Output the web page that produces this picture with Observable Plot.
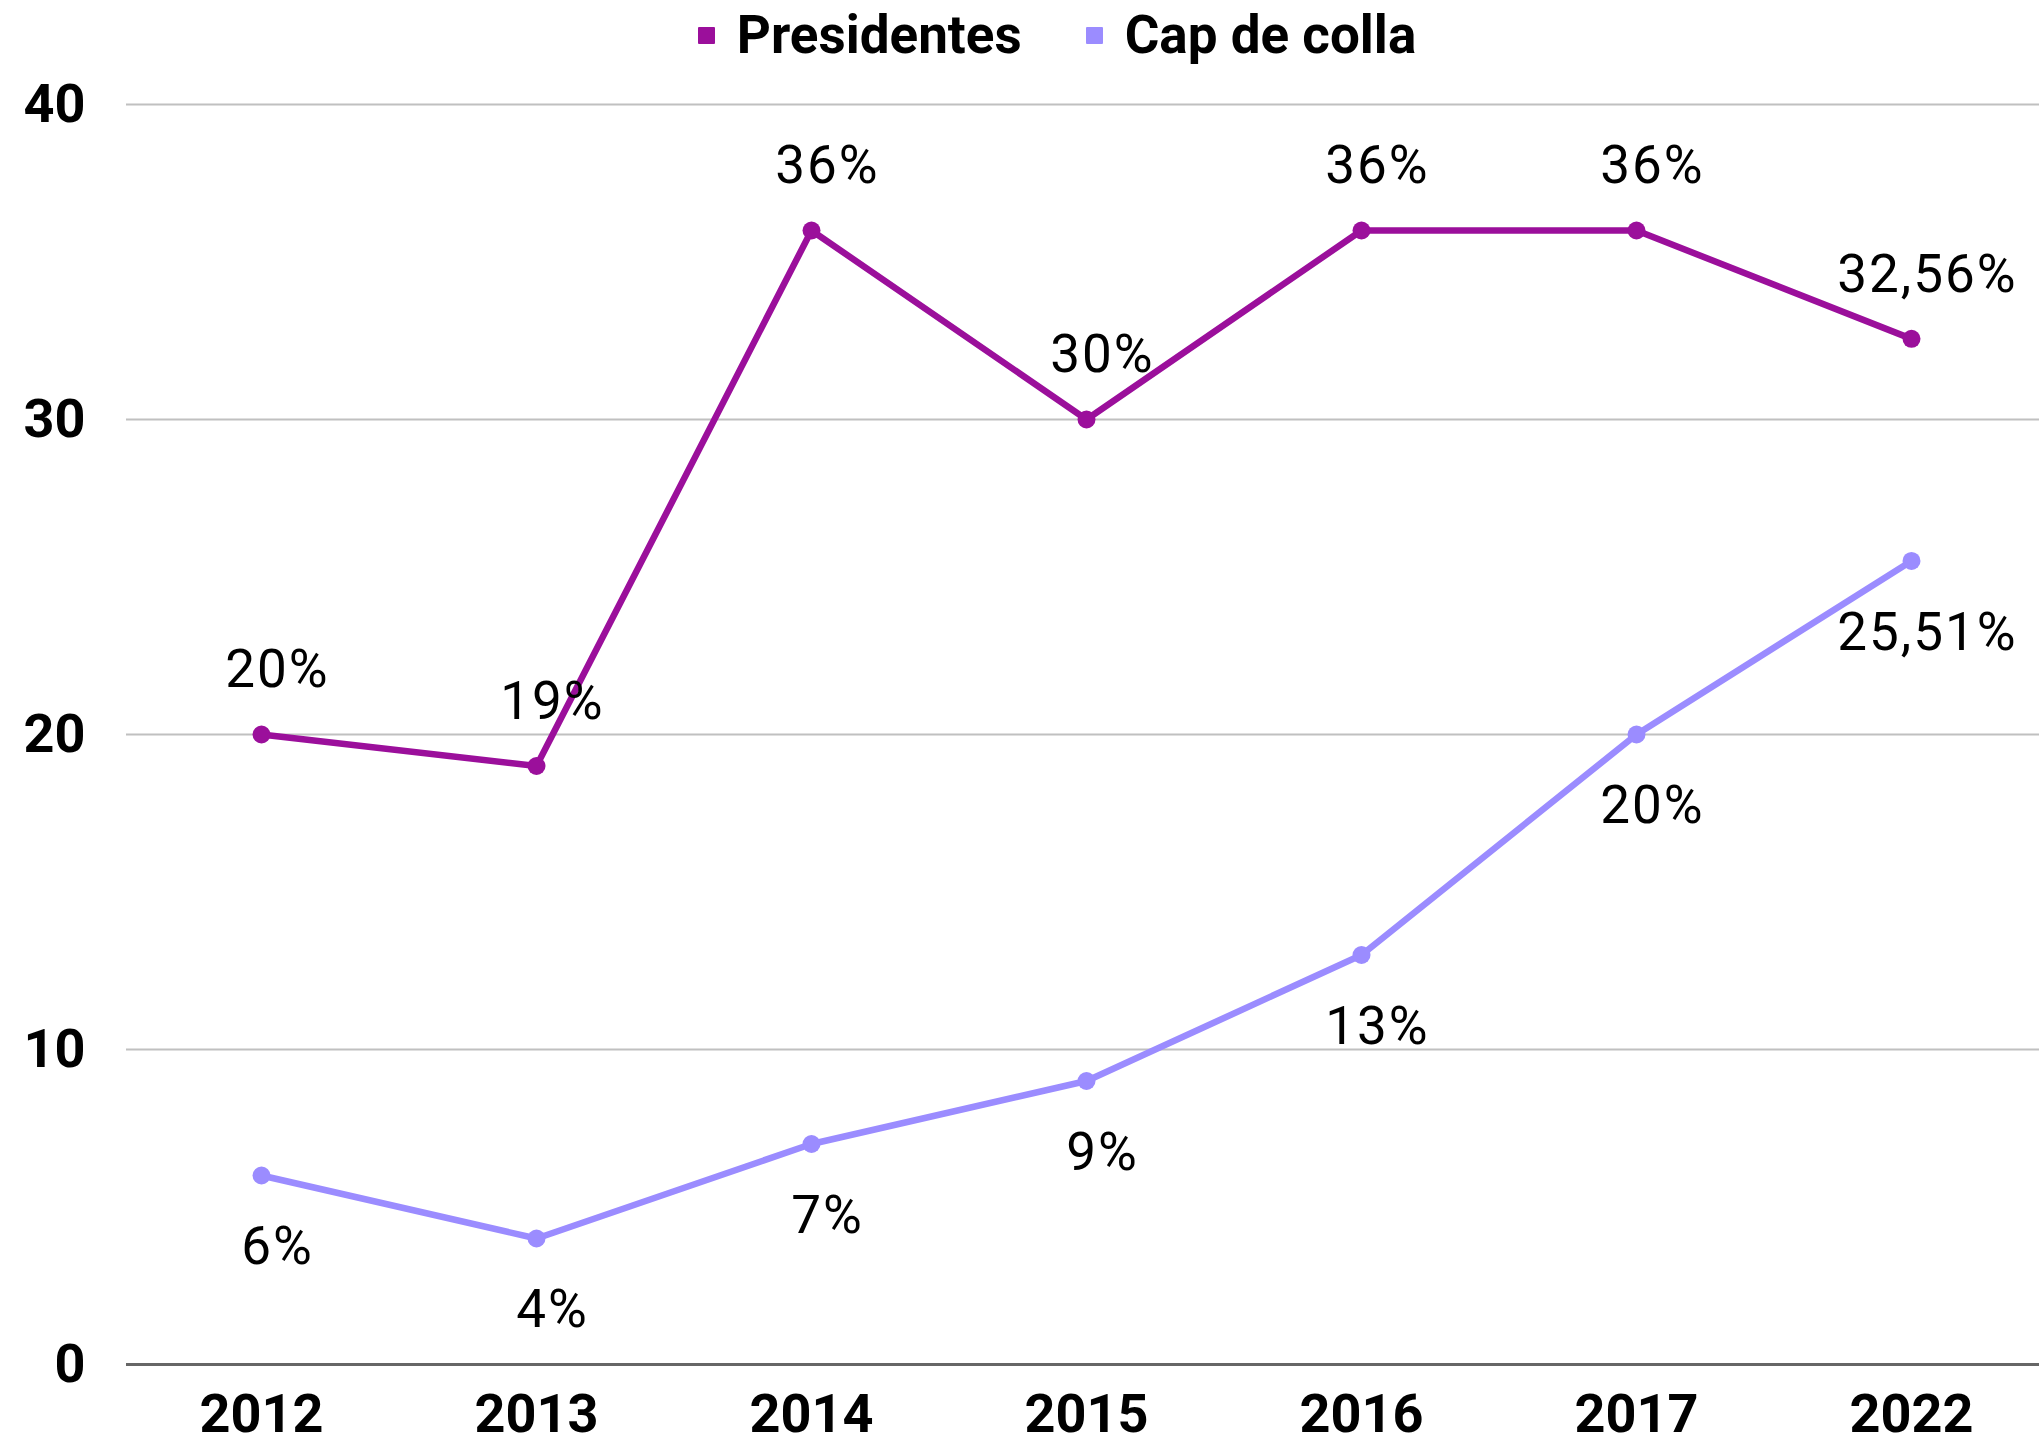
<!DOCTYPE html>
<html>
<head>
<meta charset="utf-8">
<script src="https://cdn.jsdelivr.net/npm/d3@7"></script>
<script src="https://cdn.jsdelivr.net/npm/@observablehq/plot@0.6"></script>
<style>
  html, body { margin: 0; padding: 0; background: #fff; }
  body { width: 2039px; height: 1446px; overflow: hidden; font-family: Roboto, "Noto Sans", sans-serif; }
  #legend { height: 70px; display: flex; justify-content: center; align-items: center; padding-left: 75px; box-sizing: border-box; }
  .item { display: flex; align-items: center; font-weight: 700; font-size: 53px; line-height: 70px; color: #000; }
  .item + .item { margin-left: 64px; }
  .sw { width: 17px; height: 17px; margin-right: 22px; border-radius: 1px; }
  svg { display: block; }
</style>
</head>
<body>
<div id="legend"></div>
<div id="chart"></div>
<script>
const years = ["2012", "2013", "2014", "2015", "2016", "2017", "2022"];
const presidentes = [20, 19, 36, 30, 36, 36, 32.56];
const capDeColla = [6, 4, 7, 9, 13, 20, 25.51];
const seriesNames = ["Presidentes", "Cap de colla"];
const seriesColors = ["#9b0f9b", "#9b8cff"];
const yTicks = [0, 10, 20, 30, 40];

const fmt = v => String(v).replace(".", ",") + "%";

const pres = years.map((y, i) => ({year: y, value: presidentes[i], series: seriesNames[0]}));
const cap = years.map((y, i) => ({year: y, value: capDeColla[i], series: seriesNames[1]}));

// legend
const legend = document.getElementById("legend");
seriesNames.forEach((n, i) => {
  const it = document.createElement("div");
  it.className = "item";
  const sw = document.createElement("div");
  sw.className = "sw";
  sw.style.background = seriesColors[i];
  it.appendChild(sw);
  it.appendChild(document.createTextNode(n));
  legend.appendChild(it);
});

const chart = Plot.plot({
  width: 2039,
  height: 1376,
  marginLeft: 126,
  marginRight: 0,
  marginTop: 34,
  marginBottom: 82,
  style: {fontFamily: "Roboto, 'Noto Sans', sans-serif", background: "#fff"},
  x: {type: "point", domain: years, range: [261, 1911], padding: 0, label: null},
  y: {domain: [0, 40], label: null},
  marks: [
    Plot.ruleY(yTicks.filter(d => d !== 0), {stroke: "#c0c0c0", strokeWidth: 2}),
    Plot.ruleY([0], {stroke: "#666", strokeWidth: 3}),
    Plot.axisY({ticks: yTicks, tickSize: 0, tickPadding: 41, fontSize: 54, fontWeight: 700, fill: "#000", label: null, tickFormat: d => String(d)}),
    Plot.axisX({tickSize: 0, tickPadding: 29, fontSize: 54, fontWeight: 700, fill: "#000", label: null}),
    Plot.line(pres, {x: "year", y: "value", stroke: seriesColors[0], strokeWidth: 6.5}),
    Plot.line(cap, {x: "year", y: "value", stroke: seriesColors[1], strokeWidth: 6.5}),
    Plot.dot(pres, {x: "year", y: "value", fill: seriesColors[0], r: 9}),
    Plot.dot(cap, {x: "year", y: "value", fill: seriesColors[1], r: 9}),
    Plot.text(pres, {x: "year", y: "value", text: d => fmt(d.value), dx: 16, dy: -64, fontSize: 53, fill: "#000"}),
    Plot.text(cap, {x: "year", y: "value", text: d => fmt(d.value), dx: 16, dy: 72, fontSize: 53, fill: "#000"})
  ]
});
chart.querySelectorAll("g[aria-label='text'] text").forEach(t => t.style.letterSpacing = "2px");
document.getElementById("chart").appendChild(chart);
</script>
</body>
</html>
